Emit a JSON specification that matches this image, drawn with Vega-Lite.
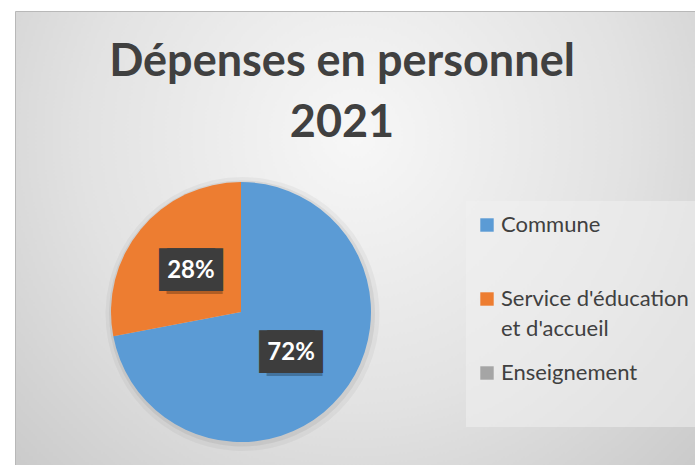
{
  "$schema": "https://vega.github.io/schema/vega-lite/v6.json",
  "width": 695,
  "height": 465,
  "autosize": {"type": "fit", "contains": "padding"},
  "padding": {"left": 15, "top": 11, "right": 0, "bottom": 0},
  "background": "white",
  "view": {
    "stroke": "#b8b8b8",
    "fill": {
      "gradient": "radial",
      "x1": 0.5, "y1": 0.35, "r1": 0,
      "x2": 0.5, "y2": 0.35, "r2": 0.8,
      "stops": [
        {"offset": 0, "color": "#f7f7f7"},
        {"offset": 0.5, "color": "#e2e2e2"},
        {"offset": 1, "color": "#c2c2c2"}
      ]
    }
  },
  "title": {
    "text": ["Dépenses en personnel", "2021"],
    "orient": "top",
    "anchor": "middle",
    "frame": "group",
    "offset": -171,
    "dx": -13,
    "baseline": "alphabetic",
    "font": "Lato",
    "fontSize": 45,
    "fontWeight": "bold",
    "color": "#404040",
    "lineHeight": 61
  },
  "data": {
    "values": [
      {"categorie": "Commune", "part": 0.72},
      {"categorie": "Service d'éducation et d'accueil", "part": 0.28},
      {"categorie": "Enseignement", "part": 0}
    ]
  },
  "encoding": {
    "theta": {"field": "part", "type": "quantitative", "stack": true},
    "order": {"field": "categorie", "type": "ordinal", "sort": "ascending"}
  },
  "layer": [
    {"mark": {"type": "arc", "outerRadius": 137, "color": "#000000", "opacity": 0.04, "xOffset": -112.5, "yOffset": 76}},
    {"mark": {"type": "arc", "outerRadius": 133, "color": "#000000", "opacity": 0.06, "xOffset": -113, "yOffset": 75.5}},
    {
      "mark": {"type": "arc", "outerRadius": 130, "xOffset": -114, "yOffset": 74},
      "encoding": {
        "color": {
          "field": "categorie",
          "type": "nominal",
          "scale": {
            "domain": ["Commune", "Service d'éducation et d'accueil", "Enseignement"],
            "range": ["#5B9BD5", "#ED7D31", "#A5A5A5"]
          },
          "legend": {
            "orient": "none",
            "legendX": 451,
            "legendY": 190,
            "title": null,
            "symbolType": "square",
            "symbolSize": 180,
            "symbolStrokeWidth": 0,
            "symbolOffset": -3,
            "labelFont": "Lato",
            "labelFontSize": 22,
            "labelColor": "#404040",
            "labelOffset": 3,
            "labelBaseline": "alphabetic",
            "labelLimit": 400,
            "rowPadding": 22,
            "padding": 13,
            "fillColor": "rgba(240,240,240,0.55)",
            "labelExpr": "datum.label == \"Commune\" ? [\"Commune\", \"\"] : datum.label == \"Enseignement\" ? [\"Enseignement\", \"\"] : [\"Service d'éducation\", \"et d'accueil\"]",
            "encode": {"labels": {"update": {"lineHeight": {"value": 30}, "dy": {"value": 7}}}}
          }
        }
      }
    },
    {
      "transform": [{"filter": "datum.part > 0"}],
      "mark": {"type": "text", "radius": 65, "text": "██", "font": "DejaVu Sans", "fontSize": 36, "color": "#000000", "opacity": 0.25, "dx": 0, "xOffset": -110.5, "yOffset": 77}
    },
    {
      "transform": [{"filter": "datum.part > 0"}],
      "mark": {"type": "text", "radius": 65, "text": "██", "font": "DejaVu Sans", "fontSize": 36, "color": "#3d3d3d", "dx": -4, "xOffset": -114, "yOffset": 74}
    },
    {
      "transform": [{"filter": "datum.part > 0"}],
      "mark": {"type": "text", "radius": 65, "text": "██", "font": "DejaVu Sans", "fontSize": 36, "color": "#3d3d3d", "dx": 4, "xOffset": -114, "yOffset": 74}
    },
    {
      "transform": [{"filter": "datum.part > 0"}],
      "mark": {"type": "text", "radius": 65, "font": "Lato", "fontWeight": "bold", "fontSize": 24, "color": "white", "xOffset": -114, "yOffset": 74},
      "encoding": {"text": {"field": "part", "type": "quantitative", "format": ".0%"}}
    }
  ]
}
